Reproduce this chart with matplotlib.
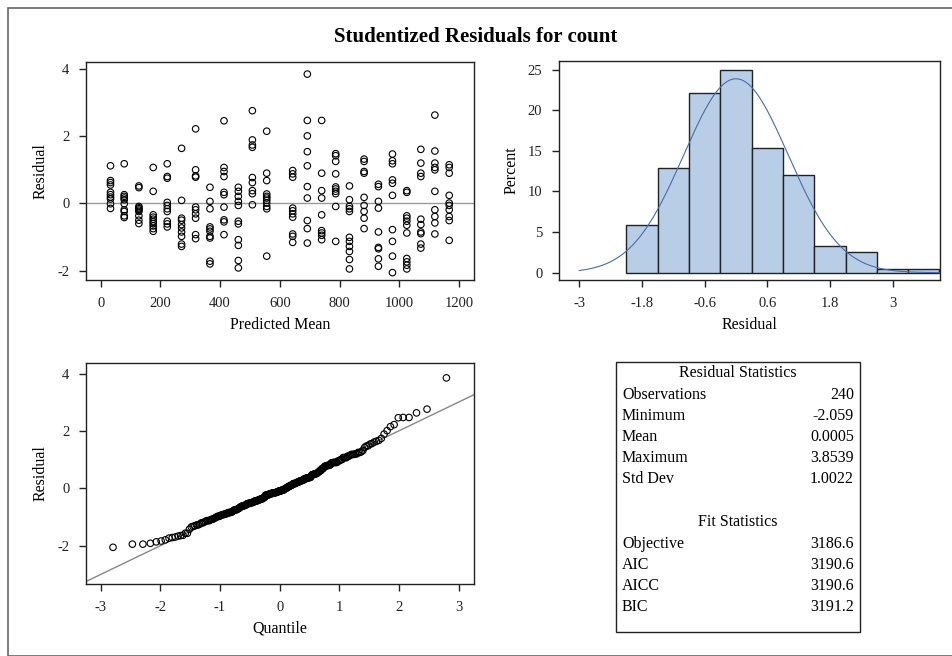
import statistics

import matplotlib

matplotlib.use("Agg")
import matplotlib.pyplot as plt
import numpy as np
from matplotlib.patches import Rectangle

plt.rcParams["font.family"] = ["Liberation Serif", "DejaVu Serif"]
plt.rcParams["axes.unicode_minus"] = False

# predicted means (one column of points each) and studentized residuals
pred_means = [33, 79, 128, 176, 223, 271, 318, 366, 413, 461, 508, 556,
              643, 692, 740, 787, 833, 882, 930, 977, 1025, 1072, 1119, 1167]
resid_by_col = [
    [1.12, 0.68, 0.62, 0.55, 0.33, 0.26, 0.19, 0.13, -0.01, -0.15],
    [1.18, 0.26, 0.21, 0.16, 0.11, -0.01, -0.19, -0.24, -0.37, -0.42],
    [0.52, 0.47, -0.09, -0.13, -0.16, -0.2, -0.24, -0.37, -0.5, -0.6],
    [1.07, 0.36, -0.34, -0.41, -0.47, -0.54, -0.6, -0.67, -0.75, -0.83],
    [1.18, 0.8, 0.75, 0.03, -0.06, -0.16, -0.24, -0.53, -0.61, -0.7],
    [1.64, 0.09, -0.44, -0.5, -0.63, -0.73, -0.85, -0.98, -1.21, -1.28],
    [2.22, 1.0, 0.82, 0.78, -0.11, -0.19, -0.31, -0.44, -0.93, -1.05],
    [0.48, 0.06, -0.16, -0.7, -0.76, -0.83, -0.98, -1.03, -1.72, -1.8],
    [2.46, 1.07, 0.95, 0.8, 0.33, 0.26, -0.11, -0.49, -0.55, -0.93],
    [0.48, 0.36, 0.21, 0.06, -0.06, -0.53, -0.61, -1.08, -1.25, -1.7, -1.92],
    [2.76, 1.89, 1.74, 1.67, 0.77, 0.62, 0.38, 0.29, -0.04],
    [2.15, 0.9, 0.68, 0.28, 0.21, 0.16, 0.09, 0.01, -0.09, -0.16, -1.57],
    [0.98, 0.88, 0.78, -0.14, -0.22, -0.31, -0.41, -0.91, -0.98, -1.16],
    [3.85, 2.47, 2.01, 1.54, 1.12, 0.5, 0.16, -0.51, -0.75, -1.18],
    [2.47, 0.9, 0.38, 0.16, -0.34, -0.81, -0.88, -0.95, -1.08],
    [1.48, 1.42, 1.25, 0.88, 0.49, 0.43, 0.36, 0.29, -0.09, -1.13],
    [0.52, 0.11, -0.09, -0.16, -0.24, -1.01, -1.13, -1.28, -1.43, -1.67, -1.95],
    [1.32, 1.25, 0.95, 0.9, 0.18, -0.06, -0.24, -0.44, -0.75],
    [0.57, 0.5, 0.06, -0.14, -0.85, -1.31, -1.35, -1.65, -1.87],
    [1.47, 1.27, 1.18, 0.7, 0.6, 0.24, -0.78, -1.13, -1.57, -2.06],
    [0.38, 0.33, -0.37, -0.44, -0.53, -0.65, -0.88, -1.64, -1.74, -1.84, -1.95],
    [1.61, 1.2, 0.9, 0.8, -0.47, -0.63, -0.85, -0.9, -1.21, -1.33],
    [2.63, 1.56, 1.2, 1.07, 1.0, 0.36, -0.19, -0.39, -0.58, -0.91],
    [1.15, 1.07, 0.9, 0.24, 0.01, -0.06, -0.19, -0.39, -0.51, -1.1],
]

# histogram bins (width 0.6) and counts out of 240
bin_edges = [-2.1, -1.5, -0.9, -0.3, 0.3, 0.9, 1.5, 2.1, 2.7, 3.3, 3.9]
bin_counts = [14, 31, 53, 60, 37, 29, 8, 6, 1, 1]

resid_stats = [("Observations", "240"), ("Minimum", "-2.059"), ("Mean", "0.0005"),
               ("Maximum", "3.8539"), ("Std Dev", "1.0022")]
fit_stats = [("Objective", "3186.6"), ("AIC", "3190.6"), ("AICC", "3190.6"), ("BIC", "3191.2")]
res_mean, res_sd = 0.0005, 1.0022

W, H = 952, 656
fig = plt.figure(figsize=(W / 100, H / 100), dpi=100)


def px_axes(left, top, right, bottom):
    return fig.add_axes([left / W, 1 - bottom / H, (right - left) / W, (bottom - top) / H])


def style(ax, xlabel, ylabel):
    for sp in ax.spines.values():
        sp.set_linewidth(1.0)
        sp.set_color("#222222")
    ax.tick_params(direction="out", length=5, width=1, labelsize=10.5, colors="#222222", pad=7)
    ax.set_xlabel(xlabel, fontsize=11.5, labelpad=5)
    ax.set_ylabel(ylabel, fontsize=11.5, labelpad=6)


fig.patches.append(Rectangle((8 / W, 0), 1, 1 - 8 / H, transform=fig.transFigure,
                             fill=False, edgecolor="#666666", linewidth=1.2))
fig.text(476 / W, 1 - 37 / H, "Studentized Residuals for count", ha="center", va="center",
         fontsize=15, fontweight="bold")

# residual vs predicted mean
ax1 = px_axes(86, 62, 474, 280)
xs = [m for m, col in zip(pred_means, resid_by_col) for _ in col]
ys = [r for col in resid_by_col for r in col]
ax1.axhline(0, color="#999999", linewidth=1)
ax1.scatter(xs, ys, s=22, facecolors="none", edgecolors="black", linewidths=0.8, zorder=3)
ax1.set_xlim(-49, 1250)
ax1.set_ylim(-2.28, 4.21)
ax1.set_xticks(range(0, 1201, 200))
ax1.set_yticks([-2, 0, 2, 4])
style(ax1, "Predicted Mean", "Residual")

# histogram with normal curve
ax2 = px_axes(559, 61, 940, 280)
pct = [100 * c / sum(bin_counts) for c in bin_counts]
ax2.bar(bin_edges[:-1], pct, width=np.diff(bin_edges), align="edge",
        color="#b8cde6", edgecolor="#222222", linewidth=1)
xc = np.linspace(-3, 3.91, 300)
dens = np.exp(-0.5 * ((xc - res_mean) / res_sd) ** 2) / (res_sd * np.sqrt(2 * np.pi))
ax2.plot(xc, dens * 0.6 * 100, color="#4a6ea8", linewidth=0.8)
ax2.set_xlim(-3.39, 3.91)
ax2.set_ylim(-0.9, 26.07)
ax2.set_xticks([-3, -1.8, -0.6, 0.6, 1.8, 3])
ax2.set_xticklabels(["-3", "-1.8", "-0.6", "0.6", "1.8", "3"])
ax2.set_yticks([0, 5, 10, 15, 20, 25])
style(ax2, "Residual", "Percent")

# normal quantile plot
ax3 = px_axes(86, 363, 474, 584)
sorted_res = sorted(ys)
n = len(sorted_res)
nd = statistics.NormalDist()
quant = [nd.inv_cdf((i + 1 - 0.375) / (n + 0.25)) for i in range(n)]
ax3.set_xlim(-3.247, 3.257)
ax3.set_ylim(-3.34, 4.37)
lx = np.array(ax3.get_xlim())
ax3.plot(lx, res_mean + res_sd * lx, color="#888888", linewidth=1)
ax3.scatter(quant, sorted_res, s=22, facecolors="none", edgecolors="black", linewidths=0.8, zorder=3)
ax3.set_xticks([-3, -2, -1, 0, 1, 2, 3])
ax3.set_yticks([-2, 0, 2, 4])
style(ax3, "Quantile", "Residual")

# statistics table
fig.patches.append(Rectangle((616 / W, 1 - 632 / H), (860 - 616) / W, (632 - 362) / H,
                             transform=fig.transFigure, fill=False, edgecolor="#222222", linewidth=1))
fs = 11.5
fig.text(738 / W, 1 - 373 / H, "Residual Statistics", ha="center", va="center", fontsize=fs)
for i, (k, v) in enumerate(resid_stats):
    y = 1 - (395 + 21 * i) / H
    fig.text(622 / W, y, k, ha="left", va="center", fontsize=fs)
    fig.text(854 / W, y, v, ha="right", va="center", fontsize=fs)
fig.text(738 / W, 1 - 522 / H, "Fit Statistics", ha="center", va="center", fontsize=fs)
for i, (k, v) in enumerate(fit_stats):
    y = 1 - (544 + 21 * i) / H
    fig.text(622 / W, y, k, ha="left", va="center", fontsize=fs)
    fig.text(854 / W, y, v, ha="right", va="center", fontsize=fs)

fig.savefig("out.png", dpi=100)
plt.close(fig)
